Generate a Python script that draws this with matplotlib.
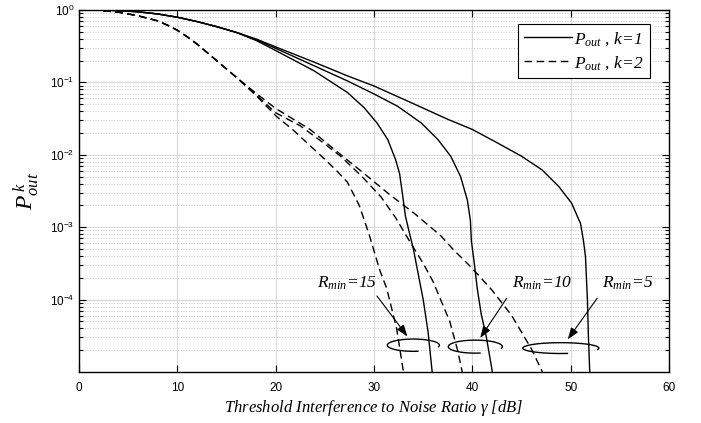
import matplotlib
matplotlib.use("Agg")
import matplotlib.pyplot as plt
import numpy as np

plt.rcParams['mathtext.fontset'] = 'custom'
plt.rcParams['mathtext.rm'] = 'Liberation Serif'
plt.rcParams['mathtext.it'] = 'Liberation Serif:italic'
plt.rcParams['mathtext.sf'] = 'Liberation Sans'
plt.rcParams['font.family'] = 'Liberation Sans'

# outage curves, x in dB, y given as log10(P_out)
# k=1 (solid)
x_k1_r5 = [0, 2, 4, 6, 8, 10, 12, 14, 16, 18, 20, 23.9, 27.3, 30, 34.1, 37.5, 40, 42.6, 45,
           47.1, 48.8, 50.1, 51.0, 51.3, 51.5, 51.7, 51.8, 51.95]
y_k1_r5 = [0, -0.001, -0.008, -0.025, -0.055, -0.10, -0.16, -0.23, -0.31, -0.40, -0.51, -0.72,
           -0.91, -1.05, -1.30, -1.51, -1.65, -1.84, -2.02, -2.21, -2.44, -2.67, -2.95, -3.19,
           -3.4, -4.0, -4.5, -5.05]
x_k1_r10 = [0, 2, 4, 6, 8, 10, 12, 14, 16, 18, 20, 23.9, 27.3, 30, 32.4, 34.8, 36.5, 37.8, 38.8,
            39.5, 39.8, 39.9, 40.2, 40.5, 40.9, 41.4, 42.1]
y_k1_r10 = [0, -0.001, -0.008, -0.025, -0.055, -0.10, -0.16, -0.23, -0.31, -0.41, -0.53, -0.77,
            -0.98, -1.16, -1.33, -1.56, -1.79, -2.02, -2.3, -2.63, -2.91, -3.19, -3.5, -3.85,
            -4.2, -4.5, -5.05]
x_k1_r15 = [0, 2, 4, 6, 8, 10, 12, 14, 16, 18, 20, 23.9, 27.3, 29.0, 30.3, 31.4, 32.2, 32.6,
            32.9, 33.2, 33.6, 34.0, 34.5, 35.0, 35.5, 35.95]
y_k1_r15 = [0, -0.001, -0.008, -0.025, -0.055, -0.10, -0.16, -0.23, -0.31, -0.42, -0.56, -0.84,
            -1.14, -1.35, -1.56, -1.79, -2.07, -2.26, -2.55, -2.85, -3.08, -3.3, -3.65, -4.0,
            -4.45, -5.05]
# k=2 (dashed)
x_k2_r5 = [0, 2, 4, 6, 8, 9, 10, 11, 12, 14, 16, 18, 20, 23.5, 26, 29, 31.5, 34.1, 36.8, 38,
           40, 42, 44, 46, 47.3]
y_k2_r5 = [0, -0.005, -0.03, -0.08, -0.15, -0.21, -0.28, -0.37, -0.47, -0.70, -0.93, -1.15,
           -1.36, -1.65, -1.93, -2.26, -2.54, -2.81, -3.12, -3.3, -3.57, -3.87, -4.22, -4.68,
           -5.05]
x_k2_r10 = [0, 2, 4, 6, 8, 9, 10, 11, 12, 14, 16, 18, 20, 22.5, 24.5, 26.6, 28.7, 30.7, 32.2,
            33.6, 35, 36, 37.7, 38.5, 39.05]
y_k2_r10 = [0, -0.005, -0.03, -0.08, -0.15, -0.21, -0.28, -0.37, -0.47, -0.70, -0.93, -1.17,
            -1.42, -1.60, -1.80, -2.02, -2.29, -2.58, -2.87, -3.19, -3.5, -3.75, -4.3, -4.7,
            -5.05]
x_k2_r15 = [0, 2, 4, 6, 8, 9, 10, 11, 12, 14, 16, 18, 20, 21.8, 23.3, 24.9, 26.2, 27.3, 28.5,
            29.5, 30.6, 31.3, 32.3, 33.05]
y_k2_r15 = [0, -0.005, -0.03, -0.08, -0.15, -0.21, -0.28, -0.37, -0.47, -0.70, -0.93, -1.18,
            -1.46, -1.66, -1.85, -2.05, -2.22, -2.38, -2.7, -3.1, -3.6, -3.85, -4.4, -5.05]

legend_labels = [r'$P_{out}$ , k=1', r'$P_{out}$ , k=2']
rmin_labels = [r'$R_{min}$=15', r'$R_{min}$=10', r'$R_{min}$=5']

fig = plt.figure(figsize=(7.01, 4.23), dpi=100)
ax = fig.add_axes([0.1127, 0.1206, 0.8417, 0.8558])

ax.set_yscale('log')
ax.set_xlim(0, 60)
ax.set_ylim(1e-5, 1)

solid_kw = dict(color='black', lw=1.0)
dash_kw = dict(color='black', lw=1.0, linestyle=(0, (5.5, 3.2)))
h1, = ax.plot(x_k1_r5, 10 ** np.array(y_k1_r5), **solid_kw)
ax.plot(x_k1_r10, 10 ** np.array(y_k1_r10), **solid_kw)
ax.plot(x_k1_r15, 10 ** np.array(y_k1_r15), **solid_kw)
h2, = ax.plot(x_k2_r5, 10 ** np.array(y_k2_r5), **dash_kw)
ax.plot(x_k2_r10, 10 ** np.array(y_k2_r10), **dash_kw)
ax.plot(x_k2_r15, 10 ** np.array(y_k2_r15), **dash_kw)

# grid
ax.grid(True, which='major', color='#dcdcdc', lw=0.9, ls='-')
ax.grid(True, which='minor', axis='y', color='#b8b8b8', lw=0.6, ls=(0, (1, 2.2)))
ax.set_axisbelow(True)

ax.set_xticks([0, 10, 20, 30, 40, 50, 60])
ax.set_yticks([1e0, 1e-1, 1e-2, 1e-3, 1e-4])
ax.set_yticklabels([r'$\mathsf{10^{0}}$', r'$\mathsf{10^{-1}}$', r'$\mathsf{10^{-2}}$',
                    r'$\mathsf{10^{-3}}$', r'$\mathsf{10^{-4}}$'])
ax.tick_params(which='both', direction='in', top=True, right=True, labelsize=8.5, width=0.8)
ax.tick_params(which='major', length=5)
ax.tick_params(which='minor', length=3)
ax.tick_params(axis='x', pad=7)
for s in ax.spines.values():
    s.set_linewidth(1.0)

ax.set_xlabel(r'Threshold Interference to Noise Ratio $\gamma$ [dB]',
              family='Liberation Serif', style='italic', fontsize=12, labelpad=3)
ax.set_ylabel(r'$P_{out}^{\,k}$', fontsize=17, labelpad=6)

leg = ax.legend([h1, h2], legend_labels, loc='upper right', bbox_to_anchor=(0.982, 0.985),
                prop={'family': 'Liberation Serif', 'style': 'italic', 'size': 12.5},
                fancybox=False, edgecolor='black', framealpha=1, handlelength=2.8,
                handletextpad=0.1, borderpad=0.35, labelspacing=0.35)
leg.get_frame().set_linewidth(0.8)

# R_min annotations: ellipse (cx, log cy, a, b), arrow tail/tip, text position
ell = [(34.0, -4.63, 2.65, 0.085), (40.3, -4.65, 2.75, 0.09), (49.0, -4.67, 3.87, 0.075)]
arrow_tail = [(30.3, -3.95), (43.5, -3.98), (52.7, -3.98)]
arrow_tip = [(33.4, -4.51), (40.8, -4.53), (49.7, -4.55)]
text_pos = [(24.2, -3.77), (44.0, -3.77), (53.2, -3.77)]
t = np.radians(np.linspace(-15, 280, 200))
for i in range(3):
    cx, cy, a, b = ell[i]
    ax.plot(cx + a * np.cos(t), 10 ** (cy + b * np.sin(t)), color='black', lw=1.0)
    ax.annotate('', xy=(arrow_tip[i][0], 10 ** arrow_tip[i][1]),
                xytext=(arrow_tail[i][0], 10 ** arrow_tail[i][1]),
                arrowprops=dict(arrowstyle='-|>,head_length=0.7,head_width=0.25',
                                color='black', lw=0.8, shrinkA=0, shrinkB=0))
    ax.text(text_pos[i][0], 10 ** text_pos[i][1], rmin_labels[i], family='Liberation Serif',
            style='italic', fontsize=12.5, ha='left', va='center')

fig.savefig('out.png', dpi=100)
